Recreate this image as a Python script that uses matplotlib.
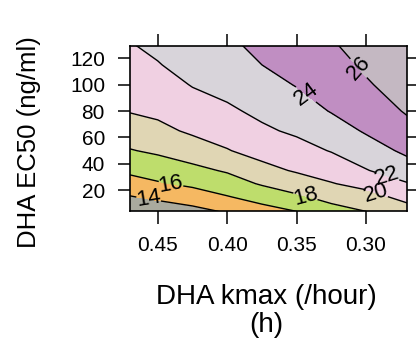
import numpy as np
import matplotlib
matplotlib.use('Agg')
import matplotlib.pyplot as plt

plt.rcParams['font.family'] = ['Liberation Sans', 'DejaVu Sans']

# grid
kmax = [0.47, 0.45, 0.425, 0.40, 0.375, 0.35, 0.325, 0.30, 0.27]
ec50 = [4, 15, 25, 35, 50, 65, 80, 100, 115, 130]
# one row per ec50 value, one column per kmax value
resp = [
    [12.3, 12.8, 13.4, 14.2, 15.3, 16.0, 17.3, 18.0, 19.2],
    [13.9, 14.4, 15.0, 15.9, 16.7, 17.7, 18.6, 19.3, 20.6],
    [15.2, 15.8, 16.4, 17.1, 18.2, 19.0, 19.9, 20.6, 21.9],
    [16.4, 16.9, 17.5, 18.2, 19.4, 20.2, 20.8, 21.9, 23.1],
    [17.9, 18.3, 19.0, 19.9, 20.7, 21.3, 22.1, 23.1, 24.4],
    [19.0, 19.5, 20.3, 20.8, 21.7, 22.3, 23.1, 24.2, 25.4],
    [20.1, 20.4, 21.1, 21.7, 22.4, 23.1, 24.1, 24.9, 26.2],
    [20.8, 21.2, 22.1, 22.6, 23.3, 24.1, 24.8, 25.8, 26.9],
    [21.4, 21.9, 22.7, 23.1, 24.0, 24.6, 25.3, 26.3, 27.5],
    [21.9, 22.4, 23.2, 23.7, 24.4, 25.1, 25.8, 26.8, 28.0],
]
levels = [10, 14, 16, 18, 20, 22, 24, 26, 30]
xticks = [0.45, 0.40, 0.35, 0.30]
xticklabels = ['0.45', '0.40', '0.35', '0.30']
yticks = [20, 40, 60, 80, 100, 120]

fill_colors = ['#aaaa9e', '#f5b862', '#bedd6c', '#e0d6b4',
               '#f0d0e2', '#d8d4da', '#c08ec2', '#c4b8c2']
label_pos = [(0.456, 17), (0.44, 28), (0.343, 18), (0.2925, 19),
             (0.2845, 31), (0.343, 93), (0.308, 110)]

fig = plt.figure(figsize=(4.16, 3.45), dpi=100)
ax = fig.add_axes([0.3125, 0.3884, 0.6659, 0.4783])

X, Y = np.meshgrid(kmax, ec50)
Z = np.array(resp)
ax.contourf(X, Y, Z, levels=levels, colors=fill_colors)
cs = ax.contour(X, Y, Z, levels=levels[1:-1], colors='black', linewidths=1)
ax.clabel(cs, fmt='%d', manual=label_pos, fontsize=16, inline=True,
          inline_spacing=0)

ax.set_xlim(0.47, 0.2705)
ax.set_ylim(4.3, 129.3)
ax.set_xticks(xticks)
ax.set_xticklabels(xticklabels)
ax.set_yticks(yticks)
ax.tick_params(direction='out', length=9, width=1.1, top=True, right=True,
               labeltop=False, labelright=False, labelsize=15, pad=9)
for s in ax.spines.values():
    s.set_linewidth(1.2)

fig.text(29 / 416, 1 - 142 / 345, 'DHA EC50 (ng/ml)', rotation=90,
         ha='center', va='center', fontsize=18.5)
fig.text(266 / 416, 1 - 311 / 345, 'DHA kmax (/hour)\n(h)', ha='center',
         va='center', fontsize=20, multialignment='center', linespacing=1.1)

fig.savefig('out.png', dpi=100)
